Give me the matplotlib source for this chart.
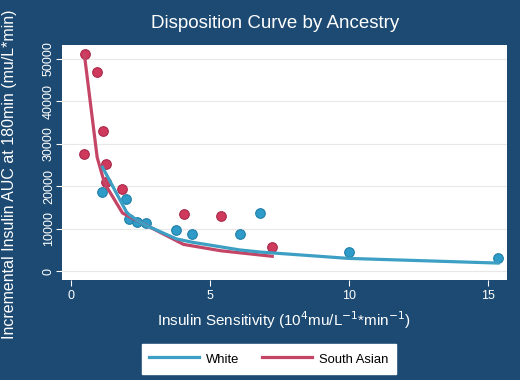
import numpy as np
import matplotlib
matplotlib.use('Agg')
import matplotlib.pyplot as plt

plt.rcParams['font.family'] = ['Liberation Sans', 'DejaVu Sans']

#=============================================================================
# Data
#=============================================================================
# scatter points
white_x = [1.14, 2.0, 2.1, 2.39, 2.70, 3.80, 4.38, 6.08, 6.81, 10.0, 15.38]
white_y = [18700, 17100, 12300, 11500, 11300, 9700, 8700, 8700, 13800, 4600, 3000]
sa_x = [0.48, 0.50, 0.95, 1.16, 1.25, 1.28, 1.86, 4.06, 5.40, 7.25]
sa_y = [27500, 51200, 47000, 33100, 25200, 21100, 19300, 13400, 12900, 5600]

# fitted disposition curves
white_fit_x = [1.14, 2.0, 2.1, 2.39, 2.70, 3.80, 4.38, 6.08, 6.81, 10.0, 15.38]
white_fit_y = [24500, 14000, 13300, 12000, 10800, 7600, 6800, 5000, 4500, 3000, 1900]
sa_fit_x = [0.49, 0.95, 1.16, 1.25, 1.28, 1.86, 4.06, 5.40, 7.25]
sa_fit_y = [51000, 26800, 22000, 20400, 20000, 13700, 6300, 4800, 3500]

x_ticks = [0, 5, 10, 15]
y_ticks = [0, 10000, 20000, 30000, 40000, 50000]

#=============================================================================
# Plot
#=============================================================================
navy = '#1c4a72'
blue = '#2f9bc8'
red = '#cf3a5c'
blue_line = '#3c9fc3'
red_line = '#c44566'

fig = plt.figure(figsize=(5.2, 3.8), dpi=100, facecolor=navy)
ax = fig.add_axes([0.119, 0.263, 0.856, 0.619])
ax.set_facecolor('white')

ax.scatter(white_x, white_y, s=48, color=blue, edgecolor='#1f7fa8', linewidth=0.8, zorder=3)
ax.scatter(sa_x, sa_y, s=48, color=red, edgecolor='#a8284a', linewidth=0.8, zorder=3)

ax.plot(sa_fit_x, sa_fit_y, color=red_line, lw=2.3, zorder=4, label='South Asian')
ax.plot(white_fit_x, white_fit_y, color=blue_line, lw=2.3, zorder=5, label='White')

ax.set_xlim(-0.32, 15.7)
ax.set_ylim(-2100, 53300)
ax.set_xticks(x_ticks)
ax.set_yticks(y_ticks)
ax.grid(axis='y', color='#e8e8e8', lw=0.8)
ax.set_axisbelow(True)

for s in ax.spines.values():
    s.set_visible(False)

ax.tick_params(colors='white', labelsize=9, length=4, width=0.8)
ax.tick_params(axis='y', pad=1)
plt.setp(ax.get_yticklabels(), rotation=90, va='center')

fig.text(275/520, 1-23/380, 'Disposition Curve by Ancestry', color='white',
         fontsize=13.5, ha='center', va='center')
ax.set_xlabel('Insulin Sensitivity (10$^4$mu/L$^{-1}$*min$^{-1}$)', color='white', fontsize=11, labelpad=5)
ax.set_ylabel('Incremental Insulin AUC at 180min (mu/L*min)', color='white', fontsize=11.5)
ax.yaxis.set_label_coords(-0.101, 0.451)

h, l = ax.get_legend_handles_labels()
leg = fig.legend(h[::-1], l[::-1], loc='center', bbox_to_anchor=(0.517, 0.055), ncol=2,
                 frameon=True, fancybox=False, edgecolor='white', facecolor='white',
                 framealpha=1, fontsize=9.4, handlelength=3.8, columnspacing=1.7,
                 borderpad=0.55, handletextpad=0.6, handleheight=1.5)

fig.savefig('out.png', dpi=100, facecolor=navy)
